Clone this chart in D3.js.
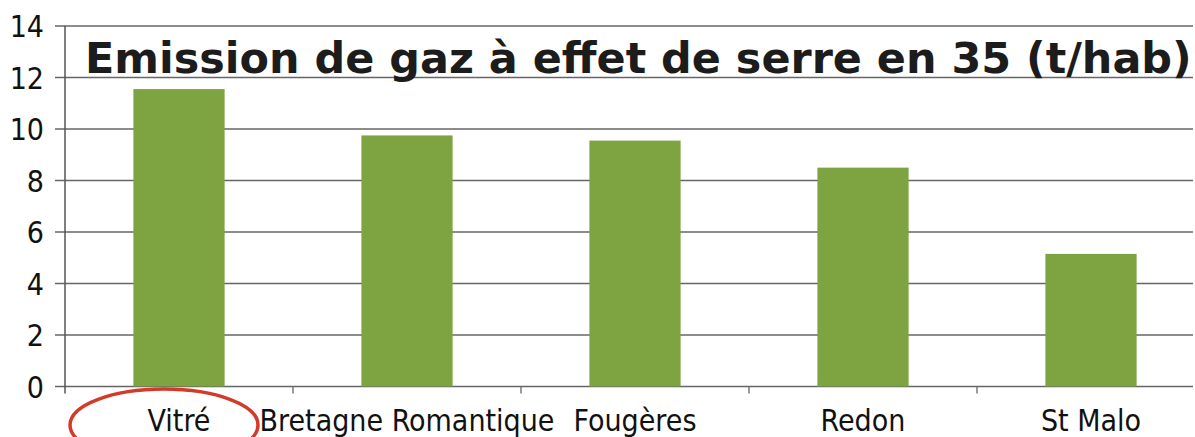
<!DOCTYPE html>
<html>
<head>
<meta charset="utf-8">
<script src="https://cdn.jsdelivr.net/npm/d3@7"></script>
<style>
  body { margin: 0; background: #fff; }
  svg { display: block; }
</style>
</head>
<body>
<div id="chart"></div>
<script>
const categories = ['Vitré', 'Bretagne Romantique', 'Fougères', 'Redon', 'St Malo'];
const values = [11.55, 9.75, 9.55, 8.5, 5.15];
const yTicks = [0, 2, 4, 6, 8, 10, 12, 14];
const title = 'Emission de gaz à effet de serre en 35 (t/hab)';

const width = 1195, height = 437;
const plotLeft = 65, plotRight = 1205, plotTop = 26, plotBottom = 386.5;

const svg = d3.select('#chart').append('svg')
  .attr('width', width)
  .attr('height', height);

const x = d3.scaleBand()
  .domain(categories)
  .range([plotLeft, plotRight])
  .paddingInner(0.6)
  .paddingOuter(0.3);

const y = d3.scaleLinear()
  .domain([0, 14])
  .range([plotBottom, plotTop]);

// gridlines
svg.append('g')
  .selectAll('line')
  .data(yTicks)
  .enter().append('line')
    .attr('x1', 55)
    .attr('x2', 1193)
    .attr('y1', d => y(d))
    .attr('y2', d => y(d))
    .attr('stroke', '#666')
    .attr('stroke-width', 1.5);

// y axis line
svg.append('line')
  .attr('x1', plotLeft).attr('x2', plotLeft)
  .attr('y1', plotTop).attr('y2', plotBottom + 7)
  .attr('stroke', '#555')
  .attr('stroke-width', 1.5);

// category tick marks
const step = x.step();
const boundaries = d3.range(1, categories.length).map(i => plotLeft + i * step);
svg.append('g')
  .selectAll('line')
  .data(boundaries)
  .enter().append('line')
    .attr('x1', d => d).attr('x2', d => d)
    .attr('y1', plotBottom).attr('y2', plotBottom + 7)
    .attr('stroke', '#777')
    .attr('stroke-width', 1.5);

// y labels
svg.append('g')
  .selectAll('text')
  .data(yTicks)
  .enter().append('text')
    .attr('x', 44)
    .attr('y', d => y(d) + 11)
    .attr('text-anchor', 'end')
    .style('font-family', '"DejaVu Sans Condensed", "DejaVu Sans", sans-serif')
    .style('font-size', '30px')
    .style('fill', '#111')
    .text(d => d);

// bars
svg.append('g')
  .selectAll('rect')
  .data(values)
  .enter().append('rect')
    .attr('x', (d, i) => x(categories[i]))
    .attr('y', d => y(d))
    .attr('width', x.bandwidth())
    .attr('height', d => y(0) - y(d))
    .attr('fill', '#7ea442');

// category labels
svg.append('g')
  .selectAll('text')
  .data(categories)
  .enter().append('text')
    .attr('x', d => x(d) + x.bandwidth() / 2)
    .attr('y', 431)
    .attr('text-anchor', 'middle')
    .style('font-family', '"DejaVu Sans Condensed", "DejaVu Sans", sans-serif')
    .style('font-size', '30px')
    .style('fill', '#111')
    .text(d => d);

// title
const t = svg.append('text')
  .attr('x', 85)
  .attr('y', 73)
  .style('font-family', '"DejaVu Sans", sans-serif')
  .style('font-weight', 'bold')
  .style('font-size', '48px')
  .style('fill', '#1c1c1c')
  .text(title);
const tw = t.node().getComputedTextLength();
t.style('font-size', (48 * 1107 / tw) + 'px');

// red ellipse around Vitré
svg.append('ellipse')
  .attr('cx', x('Vitré') + x.bandwidth() / 2 - 15)
  .attr('cy', 425)
  .attr('rx', 94)
  .attr('ry', 36)
  .attr('fill', 'none')
  .attr('stroke', '#d23a2a')
  .attr('stroke-width', 3.5);
</script>
</body>
</html>
